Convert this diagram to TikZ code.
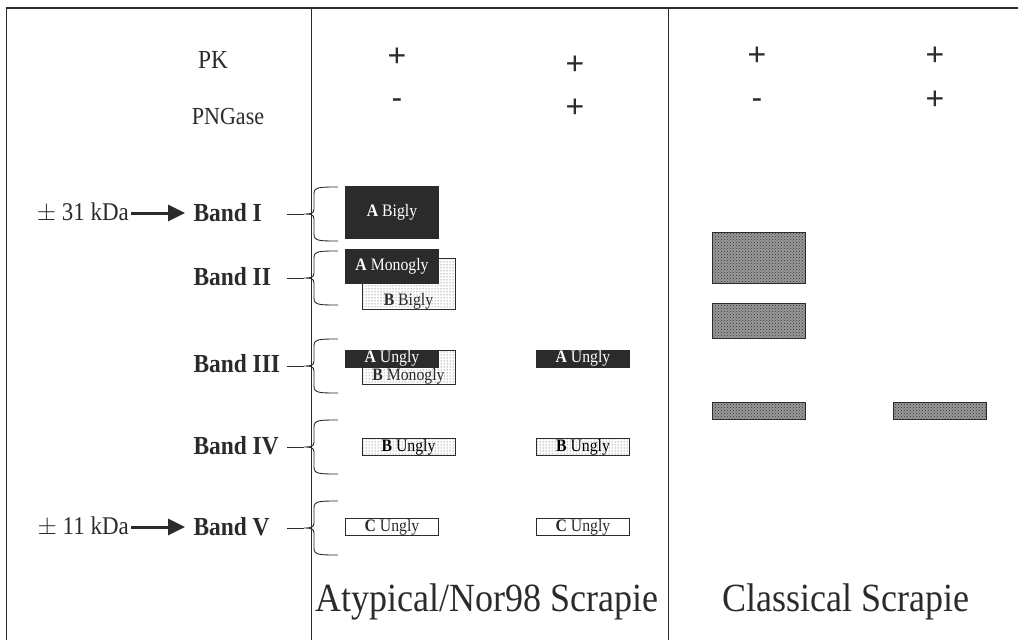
\documentclass[tikz,border=0pt]{standalone}
\usepackage{fontspec}
\setmainfont[FakeStretch=0.9]{Liberation Serif}
\newfontfamily\signfont{Liberation Sans}
\usetikzlibrary{arrows.meta,patterns}
\definecolor{inkgray}{HTML}{2B2B2B}
% brace at the left of the lanes: (top:bottom)
\def\bandbrace(#1:#2){%
	\pgfmathsetmacro\bmid{(#1+#2)/2}%
	\draw[bracestyle] (338,#1) .. controls (319,#1) and (314,#1) .. (314,#1+7) -- (314,\bmid-5)
		.. controls (314,\bmid) and (310,\bmid) .. (304,\bmid)
		.. controls (310,\bmid) and (314,\bmid) .. (314,\bmid+5) -- (314,#2-7)
		.. controls (314,#2) and (319,#2) .. (338,#2);
	\draw[bracestyle] (287,\bmid) -- (304,\bmid);
}

\begin{document}
\begin{tikzpicture}[x=1pt,y=-1pt,
	frame/.style={draw=inkgray, line width=1.5pt},
	bracestyle/.style={draw=inkgray, line width=0.9pt},
	toptxt/.style={text=inkgray, font=\fontsize{24.5}{28}\selectfont},
	sign/.style={text=inkgray, inner sep=0pt, font=\signfont\fontsize{32}{36}\selectfont},
	bandlbl/.style={text=inkgray, anchor=west, font=\bfseries\fontsize{26}{30}\selectfont},
	kda/.style={text=inkgray, anchor=east, inner sep=2pt, font=\fontsize{25.5}{30}\selectfont},
	kdaarrow/.style={draw=inkgray, line width=3pt, -{Triangle[length=17pt,width=16pt]}, shorten >=5pt},
	lanebox/.style={draw=inkgray, line width=1pt, inner sep=0pt, minimum width=93pt, font=\fontsize{17.5}{19}\selectfont},
	ablack/.style={lanebox, fill=inkgray, text=white},
	bdots/.style={lanebox, fill=white, postaction={pattern=dots, pattern color=black!75}},
	cwhite/.style={lanebox, fill=white, text=inkgray},
	classic/.style={lanebox, fill=black!40, postaction={pattern=crosshatch dots, pattern color=black!80}},
	boxtxt/.style={text=inkgray, inner sep=0pt, font=\fontsize{17.5}{19}\selectfont},
	lanetitle/.style={text=inkgray, font=\fontsize{40}{46}\selectfont}]
	%%%%% START %%%%%
	\useasboundingbox (0,0) rectangle (1018,640);
	
	\draw[frame] (1018,8) -- (6.5,8) -- (6.5,640);
	\draw[frame, line width=1pt] (311,8) -- (311,640);
	\draw[frame, line width=1pt] (668,8) -- (668,640);
	
	\node[toptxt, font=\fontsize{26}{30}\selectfont] (pk) at (213,60) {PK};
	\node[toptxt] (pngase) at (228,117) {PNGase};
	
	\node[sign] (pk1) at (397,57) {+};
	\node[sign] (pk2) at (575,65) {+};
	\node[sign] (pk3) at (757,56) {+};
	\node[sign] (pk4) at (935,56) {+};
	\node[sign] (png1) at (397,104) {-};
	\node[sign] (png2) at (575,108) {+};
	\node[sign] (png3) at (757,104) {-};
	\node[sign] (png4) at (935,100) {+};
	
	\node[bandlbl] (band1) at (190,213) {Band I};
	\node[bandlbl] (band2) at (190,277) {Band II};
	\node[bandlbl] (band3) at (190,364) {Band III};
	\node[bandlbl] (band4) at (190,446) {Band IV};
	\node[bandlbl] (band5) at (190,527) {Band V};
	
	\node[kda] (kda31) at (131,213) {$\pm$ 31 kDa};
	\node[kda] (kda11) at (131,527) {$\pm$ 11 kDa};
	\draw[kdaarrow] (kda31) -- (band1);
	\draw[kdaarrow] (kda11) -- (band5);
	
	\bandbrace(187:241)
	\bandbrace(251:305)
	\bandbrace(339:393)
	\bandbrace(420:474)
	\bandbrace(501:555)
	
	% atypical lanes
	\node[ablack, minimum height=52pt] (aBigly) at (392,212.5) {\textbf{A} Bigly};
	\node[bdots, minimum height=51pt] (bBigly) at (408.5,284) {};
	\node[boxtxt, anchor=base] (bBiglyTxt) at ([yshift=5pt]bBigly.south) {\textbf{B} Bigly};
	\node[ablack, minimum height=34pt] (aMonogly) at (392,266.5) {\textbf{A} Monogly};
	
	\node[bdots, minimum height=34pt] (bMonogly) at (408.5,367) {};
	\node[boxtxt, anchor=base] (bMonoglyTxt) at ([yshift=4pt]bMonogly.south) {\textbf{B} Monogly};
	\node[ablack, minimum height=17pt] (aUngly1) at (392,358.5) {\textbf{A} Ungly};
	\node[bdots, minimum height=17pt] (bUngly1) at (408.5,447) {\textbf{B} Ungly};
	\node[cwhite, minimum height=17pt] (cUngly1) at (392,527) {\textbf{C} Ungly};
	
	\node[ablack, minimum height=17pt] (aUngly2) at (583,358.5) {\textbf{A} Ungly};
	\node[bdots, minimum height=17pt] (bUngly2) at (583,447) {\textbf{B} Ungly};
	\node[cwhite, minimum height=17pt] (cUngly2) at (583,527) {\textbf{C} Ungly};
	
	% classical lanes
	\node[classic, minimum height=51pt] (cls1) at (758.5,257.5) {};
	\node[classic, minimum height=35pt] (cls2) at (758.5,320.5) {};
	\node[classic, minimum height=17pt] (cls3) at (758.5,411) {};
	\node[classic, minimum height=17pt] (cls4) at (939.5,411) {};
	
	\node[lanetitle] (atyp) at (487,602) {Atypical/Nor98 Scrapie};
	\node[lanetitle] (classical) at (846,602) {Classical Scrapie};
	%%%%% END %%%%%
\end{tikzpicture}
\end{document}
